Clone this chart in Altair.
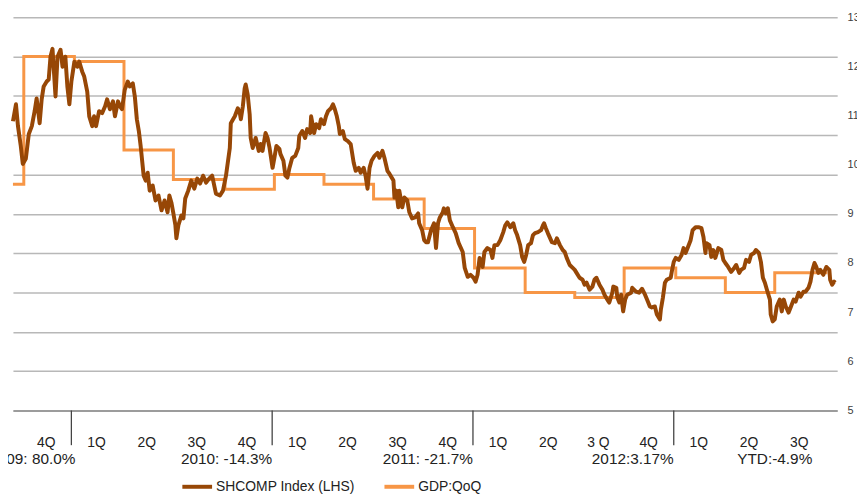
import altair as alt
import pandas as pd

# ---------------- data ----------------
# Shanghai Composite (left, hidden axis), time as decimal year
sh_t = [2009.709, 2009.724, 2009.734, 2009.748, 2009.758, 2009.773, 2009.788, 2009.803, 2009.817, 2009.827,
        2009.842, 2009.852, 2009.862, 2009.877, 2009.887, 2009.896, 2009.906, 2009.921, 2009.931, 2009.946,
        2009.956, 2009.970, 2009.980, 2009.990, 2010.000, 2010.015, 2010.030, 2010.039, 2010.054, 2010.064,
        2010.079, 2010.089, 2010.104, 2010.113, 2010.123, 2010.138, 2010.153, 2010.168, 2010.178, 2010.192,
        2010.207, 2010.217, 2010.232, 2010.242, 2010.252, 2010.266, 2010.281, 2010.291, 2010.306, 2010.316,
        2010.326, 2010.336, 2010.345, 2010.360, 2010.370, 2010.380, 2010.390, 2010.405, 2010.419, 2010.434,
        2010.449, 2010.464, 2010.479, 2010.488, 2010.498, 2010.508, 2010.518, 2010.523, 2010.533, 2010.548,
        2010.558, 2010.567, 2010.582, 2010.597, 2010.612, 2010.627, 2010.641, 2010.656, 2010.671, 2010.686,
        2010.701, 2010.720, 2010.740, 2010.755, 2010.770, 2010.789, 2010.794, 2010.814, 2010.829, 2010.839,
        2010.844, 2010.854, 2010.863, 2010.868, 2010.878, 2010.888, 2010.893, 2010.903, 2010.918, 2010.933,
        2010.942, 2010.952, 2010.967, 2010.977, 2010.987, 2011.002, 2011.011, 2011.021, 2011.036, 2011.041,
        2011.056, 2011.066, 2011.076, 2011.085, 2011.100, 2011.115, 2011.130, 2011.135, 2011.150, 2011.164,
        2011.174, 2011.189, 2011.194, 2011.209, 2011.219, 2011.234, 2011.243, 2011.258, 2011.268, 2011.278,
        2011.293, 2011.303, 2011.312, 2011.322, 2011.332, 2011.337, 2011.352, 2011.362, 2011.377, 2011.391,
        2011.406, 2011.416, 2011.431, 2011.441, 2011.456, 2011.465, 2011.475, 2011.485, 2011.495, 2011.510,
        2011.525, 2011.534, 2011.549, 2011.559, 2011.574, 2011.584, 2011.604, 2011.609, 2011.618, 2011.628,
        2011.633, 2011.648, 2011.658, 2011.673, 2011.683, 2011.697, 2011.712, 2011.727, 2011.732, 2011.747,
        2011.757, 2011.766, 2011.776, 2011.791, 2011.806, 2011.816, 2011.826, 2011.835, 2011.850, 2011.855,
        2011.865, 2011.875, 2011.885, 2011.900, 2011.914, 2011.929, 2011.949, 2011.959, 2011.974, 2011.988,
        2012.003, 2012.013, 2012.023, 2012.033, 2012.048, 2012.057, 2012.072, 2012.087, 2012.097, 2012.107,
        2012.122, 2012.136, 2012.151, 2012.161, 2012.171, 2012.186, 2012.201, 2012.210, 2012.220, 2012.235,
        2012.245, 2012.255, 2012.265, 2012.275, 2012.289, 2012.299, 2012.309, 2012.324, 2012.339, 2012.349,
        2012.354, 2012.363, 2012.373, 2012.393, 2012.408, 2012.418, 2012.433, 2012.447, 2012.457, 2012.467,
        2012.482, 2012.497, 2012.507, 2012.516, 2012.531, 2012.546, 2012.556, 2012.566, 2012.581, 2012.595,
        2012.605, 2012.615, 2012.630, 2012.645, 2012.655, 2012.669, 2012.679, 2012.694, 2012.699, 2012.714,
        2012.719, 2012.729, 2012.738, 2012.748, 2012.758, 2012.768, 2012.788, 2012.793, 2012.812, 2012.827,
        2012.842, 2012.857, 2012.867, 2012.881, 2012.891, 2012.906, 2012.916, 2012.931, 2012.936, 2012.946,
        2012.956, 2012.965, 2012.985, 2012.990, 2013.000, 2013.010, 2013.025, 2013.039, 2013.049, 2013.059,
        2013.069, 2013.084, 2013.094, 2013.109, 2013.123, 2013.138, 2013.148, 2013.158, 2013.163, 2013.178,
        2013.187, 2013.197, 2013.207, 2013.222, 2013.237, 2013.247, 2013.257, 2013.271, 2013.286, 2013.301,
        2013.311, 2013.326, 2013.335, 2013.350, 2013.360, 2013.375, 2013.385, 2013.400, 2013.409, 2013.424,
        2013.434, 2013.444, 2013.454, 2013.464, 2013.479, 2013.483, 2013.493, 2013.503, 2013.513, 2013.528,
        2013.538, 2013.548, 2013.558, 2013.572, 2013.582, 2013.597, 2013.607, 2013.622, 2013.632, 2013.646,
        2013.656, 2013.671, 2013.681, 2013.691, 2013.701, 2013.710, 2013.720, 2013.730, 2013.745, 2013.750,
        2013.760, 2013.775, 2013.779, 2013.789, 2013.799, 2013.804]

sh_v = [3071, 3157, 3046, 2945, 2854, 2880, 3006, 3046, 3122, 3187,
        3061, 3182, 3248, 3273, 3283, 3399, 3439, 3197, 3399, 3434,
        3348, 3399, 3248, 3157, 3273, 3374, 3348, 3374, 3323, 3298,
        3222, 3096, 3046, 3096, 3046, 3122, 3112, 3147, 3182, 3132,
        3172, 3096, 3172, 3147, 3132, 3232, 3273, 3248, 3263, 3197,
        3081, 3021, 2945, 2794, 2769, 2809, 2718, 2744, 2668, 2693,
        2618, 2668, 2608, 2693, 2658, 2602, 2542, 2476, 2542, 2592,
        2577, 2678, 2718, 2769, 2728, 2779, 2754, 2794, 2759, 2779,
        2794, 2703, 2693, 2718, 2794, 2935, 3061, 3096, 3137, 3112,
        3081, 3147, 3238, 3258, 3207, 3106, 2986, 2935, 2986, 2920,
        2955, 2920, 3011, 2986, 2935, 2834, 2885, 2945, 2930, 2905,
        2870, 2794, 2784, 2829, 2885, 2895, 2935, 2996, 3021, 2986,
        3031, 3011, 3096, 3011, 3056, 3036, 3081, 3056, 3096, 3122,
        3137, 3157, 3132, 3096, 3046, 3006, 3021, 2980, 2970, 2955,
        2860, 2819, 2834, 2809, 2834, 2794, 2728, 2834, 2870, 2895,
        2910, 2885, 2920, 2885, 2819, 2804, 2769, 2683, 2718, 2633,
        2718, 2633, 2683, 2668, 2608, 2577, 2582, 2602, 2552, 2517,
        2466, 2456, 2456, 2517, 2552, 2426, 2552, 2582, 2608, 2628,
        2602, 2628, 2567, 2532, 2502, 2451, 2406, 2325, 2280, 2290,
        2275, 2255, 2290, 2376, 2330, 2406, 2426, 2416, 2376, 2441,
        2441, 2466, 2507, 2542, 2557, 2532, 2552, 2517, 2492, 2441,
        2381, 2356, 2391, 2441, 2451, 2492, 2502, 2507, 2517, 2542,
        2552, 2527, 2502, 2456, 2451, 2476, 2441, 2416, 2406, 2376,
        2340, 2325, 2315, 2300, 2275, 2265, 2240, 2250, 2214, 2230,
        2265, 2275, 2240, 2214, 2189, 2164, 2149, 2199, 2230, 2224,
        2174, 2149, 2189, 2104, 2164, 2189, 2199, 2224, 2204, 2199,
        2219, 2189, 2164, 2129, 2124, 2129, 2088, 2063, 2114, 2174,
        2250, 2265, 2275, 2305, 2356, 2376, 2366, 2391, 2426, 2401,
        2426, 2466, 2517, 2532, 2532, 2527, 2482, 2401, 2451, 2441,
        2381, 2416, 2376, 2426, 2416, 2366, 2350, 2330, 2305, 2325,
        2340, 2300, 2315, 2325, 2366, 2356, 2391, 2401, 2416, 2401,
        2356, 2275, 2250, 2214, 2164, 2088, 2053, 2063, 2129, 2164,
        2104, 2164, 2129, 2098, 2124, 2164, 2154, 2199, 2179, 2204,
        2204, 2224, 2255, 2315, 2350, 2330, 2300, 2315, 2290, 2305,
        2330, 2315, 2265, 2240, 2255, 2250]

# GDP growth, stepped by quarter (right axis)
gdp_t = [2009.709, 2009.763, 2010.015, 2010.262, 2010.508, 2010.765, 2011.011, 2011.258, 2011.505,
         2011.757, 2012.008, 2012.260, 2012.507, 2012.753, 2013.010, 2013.257, 2013.503, 2013.765]
gdp_v = [9.6, 12.2, 12.1, 10.3, 9.7, 9.5, 9.8, 9.6, 9.3,
         8.7, 7.9, 7.4, 7.3, 7.9, 7.7, 7.4, 7.8, 7.8]

# quarter labels under the axis
q_year = [2009, 2010, 2010, 2010, 2010, 2011, 2011, 2011, 2011, 2012, 2012, 2012, 2012, 2013, 2013, 2013]
q_num = [4, 1, 2, 3, 4, 1, 2, 3, 4, 1, 2, 3, 4, 1, 2, 3]
q_text = ["4Q", "1Q", "2Q", "3Q", "4Q", "1Q", "2Q", "3Q", "4Q", "1Q", "2Q", "3 Q", "4Q", "1Q", "2Q", "3Q"]

# yearly performance labels (right end of each label)
yr_end = [2010.02, 2011.0, 2012.0, 2013.0, 2013.69]
yr_text = ["2009: 80.0%", "2010: -14.3%", "2011: -21.7%", "2012:3.17%", "YTD:-4.9%"]

# year separators
yr_sep = [2010, 2011, 2012, 2013]

series_names = ["SHCOMP Index (LHS)", "GDP:QoQ"]
series_colors = ["#974706", "#F79646"]

# ---------------- build ----------------
FONT = "Liberation Sans"
W, H = 832, 397

sh_df = pd.DataFrame({"t": sh_t, "v": sh_v, "series": series_names[0]})
gdp_df = pd.DataFrame({"t": gdp_t, "v": gdp_v, "series": series_names[1]})
q_df = pd.DataFrame({"t": [y + (q - 0.5) / 4 for y, q in zip(q_year, q_num)], "label": q_text})
yr_df = pd.DataFrame({"t": yr_end, "label": yr_text})
sep_df = pd.DataFrame({"t": yr_sep})

xscale = alt.Scale(domain=[2009.709, 2013.814], nice=False, zero=False)
xaxis = alt.Axis(labels=False, ticks=False, grid=False, domain=True, domainColor="#8C8C8C",
                 domainWidth=1.5, title=None)

color = alt.Color(
    "series:N",
    scale=alt.Scale(domain=series_names, range=series_colors),
    legend=alt.Legend(
        orient="none", legendX=169, legendY=457, direction="horizontal", title=None,
        symbolType="stroke", symbolSize=900, symbolStrokeWidth=4, labelFontSize=14,
        labelFont=FONT, labelColor="#222222", columnPadding=21, labelOffset=2, padding=0,
    ),
)

gdp_line = alt.Chart(gdp_df).mark_line(interpolate="step-after", strokeWidth=3).encode(
    x=alt.X("t:Q", scale=xscale, axis=xaxis),
    y=alt.Y("v:Q", scale=alt.Scale(domain=[5, 13], nice=False, zero=False),
            axis=alt.Axis(orient="right", values=list(range(5, 14)), labelFontSize=11,
                          labelFont=FONT, labelColor="#404040", labelPadding=10, ticks=False,
                          domain=False, grid=False, title=None, labelFlush=False)),
    color=color,
)

sh_line = alt.Chart(sh_df).mark_line(strokeWidth=4, strokeJoin="round").encode(
    x=alt.X("t:Q", scale=xscale, axis=xaxis),
    y=alt.Y("v:Q", scale=alt.Scale(domain=[1600, 3600], nice=False, zero=False),
            axis=alt.Axis(orient="left", values=list(range(1600, 3601, 200)), labels=False,
                          ticks=False, domain=False, grid=True, gridColor="#B8B8B8",
                          gridWidth=1.5, title=None)),
    color=color,
)

seps = alt.Chart(sep_df).mark_rule(color="#444444", strokeWidth=1.3).encode(
    x=alt.X("t:Q", scale=xscale, axis=xaxis),
    y=alt.value(H),
    y2=alt.value(H + 35),
)

q_labels = alt.Chart(q_df).mark_text(font=FONT, fontSize=14, color="#222222",
                                     align="center", baseline="middle").encode(
    x=alt.X("t:Q", scale=xscale, axis=xaxis),
    y=alt.value(H + 33),
    text="label:N",
)

yr_labels = alt.Chart(yr_df).mark_text(font=FONT, fontSize=15.5, color="#222222",
                                       align="right", baseline="middle").encode(
    x=alt.X("t:Q", scale=xscale, axis=xaxis),
    y=alt.value(H + 49),
    text="label:N",
)

chart = (
    alt.layer(gdp_line, sh_line, seps, q_labels, yr_labels)
    .resolve_scale(y="independent")
    .properties(width=W, height=H, autosize=alt.AutoSizeParams(type="none"),
                padding={"left": 5, "top": 7, "right": 20, "bottom": 82},
                background="white")
    .configure_view(stroke=None)
)

chart.save("out.html", embed_options={"renderer": "svg", "actions": False})
